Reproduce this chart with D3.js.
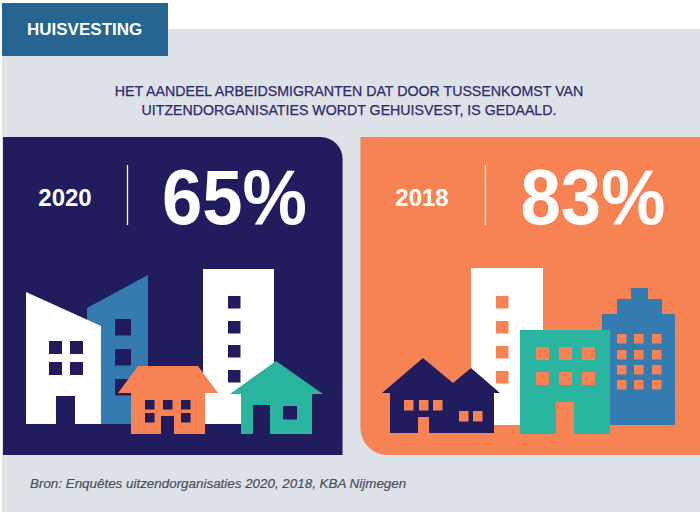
<!DOCTYPE html>
<html>
<head>
<meta charset="utf-8">
<script src="https://cdn.jsdelivr.net/npm/d3@7"></script>
<style>
  html, body { margin: 0; padding: 0; background: #fff; }
  text { font-family: "Liberation Sans", Arial, sans-serif; }
</style>
</head>
<body>
<div id="chart"></div>
<script>
const years = ['2020', '2018'];
const shares = [65, 83];
const sectionTitle = 'HUISVESTING';
const introLines = [
    'HET AANDEEL ARBEIDSMIGRANTEN DAT DOOR TUSSENKOMST VAN',
    'UITZENDORGANISATIES WORDT GEHUISVEST, IS GEDAALD.'
];
const sourceNote = 'Bron: Enquêtes uitzendorganisaties 2020, 2018, KBA Nijmegen';

const navy = '#211c5d', orange = '#f78254', blue = '#337bb0', teal = '#29b5a0', white = '#fff';

const width = 700, height = 515;
const svg = d3.select('#chart').append('svg')
    .attr('width', width)
    .attr('height', height)
    .style('display', 'block');

// Page background and section tab
svg.append('rect').attr('x', 2).attr('y', 29).attr('width', 698).attr('height', 483).attr('fill', '#dde2e8');
svg.append('rect').attr('x', 2).attr('y', 3).attr('width', 166).attr('height', 53).attr('fill', '#266591');
svg.append('text').attr('x', 27).attr('y', 35).attr('font-size', 17).attr('font-weight', 700)
    .attr('fill', white).text(sectionTitle);

// Intro text
svg.selectAll('.intro').data(introLines).join('text')
    .attr('class', 'intro')
    .attr('x', 349)
    .attr('y', (d, i) => 96 + i * 19)
    .attr('text-anchor', 'middle')
    .attr('font-size', 14.2)
    .attr('fill', '#2f2a6b')
    .attr('stroke', '#2f2a6b')
    .attr('stroke-width', 0.25)
    .text(d => d);

// Panels
const panelX = d3.scaleBand().domain(years).range([3, 700]).paddingInner(0.05);
const panelTop = 137, panelBottom = 455;

function panelPath(year) {
    const x0 = panelX(year), x1 = x0 + panelX.bandwidth();
    const p = d3.path();
    if (year === '2020') {
        p.moveTo(x0, panelTop);
        p.lineTo(x1 - 22, panelTop);
        p.arcTo(x1, panelTop, x1, panelTop + 22, 22);
        p.lineTo(x1, panelBottom);
        p.lineTo(x0, panelBottom);
    } else {
        p.moveTo(x0, panelTop);
        p.lineTo(x1, panelTop);
        p.lineTo(x1, panelBottom);
        p.lineTo(x0 + 27, panelBottom);
        p.arcTo(x0, panelBottom, x0, panelBottom - 27, 27);
    }
    p.closePath();
    return p.toString();
}

const panels = svg.selectAll('.panel').data(years).join('g').attr('class', 'panel');
panels.append('path').attr('d', panelPath).attr('fill', (d, i) => i === 0 ? navy : orange);
panels.append('text')
    .attr('x', d => d === '2020' ? 65 : 422)
    .attr('y', 206)
    .attr('text-anchor', 'middle')
    .attr('font-size', 24)
    .attr('font-weight', 700)
    .attr('fill', white)
    .text(d => d);
panels.append('line')
    .attr('x1', d => d === '2020' ? 127.5 : 485.5)
    .attr('x2', d => d === '2020' ? 127.5 : 485.5)
    .attr('y1', 165).attr('y2', 225)
    .attr('stroke', white).attr('stroke-width', 1.3);
panels.append('text')
    .attr('x', d => d === '2020' ? 162 : 520.5)
    .attr('y', 224)
    .attr('font-size', 78)
    .attr('font-weight', 700)
    .attr('fill', white)
    .attr('textLength', 145)
    .attr('lengthAdjust', 'spacingAndGlyphs')
    .text((d, i) => shares[i] + '%');

// Building illustrations
function poly(pts, fill) {
    svg.append('path').attr('d', d3.line()(pts) + 'Z').attr('fill', fill);
}
function box(x, y, w, h, fill) {
    svg.append('rect').attr('x', x).attr('y', y).attr('width', w).attr('height', h).attr('fill', fill);
}

// 2020 panel
poly([[87, 308], [148, 275], [148, 424], [87, 424]], blue);
[319, 349, 379].forEach(y => box(115, y, 16, 16.5, navy));
poly([[26, 292], [101, 326], [101, 424], [26, 424]], white);
[[49, 341], [70, 341], [49, 362], [70, 362]].forEach(d => box(d[0], d[1], 13, 13, navy));
box(56, 396, 19, 28, navy);
box(203, 269, 71, 155, white);
[296, 321, 345, 370].forEach(y => box(228, y, 12.5, 12.5, navy));
poly([[118, 393], [138, 366], [198, 366], [218, 393], [205, 393], [205, 434], [131, 434], [131, 393]], orange);
[[145, 400], [163, 400], [181, 400], [145, 413], [181, 413]].forEach(d => box(d[0], d[1], 9.5, 9.5, navy));
box(161, 416, 13, 18, navy);
poly([[230, 394], [276, 361], [323, 394], [312, 394], [312, 434], [241, 434], [241, 394]], teal);
box(253, 405, 17, 29, navy);
box(283, 406, 14, 13.5, navy);

// 2018 panel
box(471, 268, 72, 157, white);
[296, 321, 346, 371].forEach(y => box(496, y, 12.5, 12.5, orange));
poly([[631, 288], [648, 288], [648, 299], [662, 299], [662, 314], [675, 314], [675, 425], [602, 425], [602, 314], [617, 314], [617, 299], [631, 299]], blue);
[334, 350, 365, 380].forEach(y => [617, 634, 652].forEach(x => box(x, y, 9.5, 9.5, orange)));
box(520, 330, 90, 104, teal);
[347, 372].forEach(y => [536, 559, 582].forEach(x => box(x, y, 13, 13, orange)));
box(556, 402, 18, 32, orange);
poly([[382, 393], [423, 358], [453, 383], [471, 368], [500, 393], [494, 393], [494, 433], [429, 433], [429, 417], [418, 417], [418, 433], [390, 433], [390, 393]], navy);
[404, 419, 433].forEach(x => box(x, 400, 9.5, 10.5, orange));
[459, 473].forEach(x => box(x, 411, 9.5, 10.5, orange));

// Source note
svg.append('text').attr('x', 30).attr('y', 488).attr('font-size', 13.4).attr('font-style', 'italic')
    .attr('fill', '#4a4f58').attr('stroke', '#4a4f58').attr('stroke-width', 0.2).text(sourceNote);
</script>
</body>
</html>
